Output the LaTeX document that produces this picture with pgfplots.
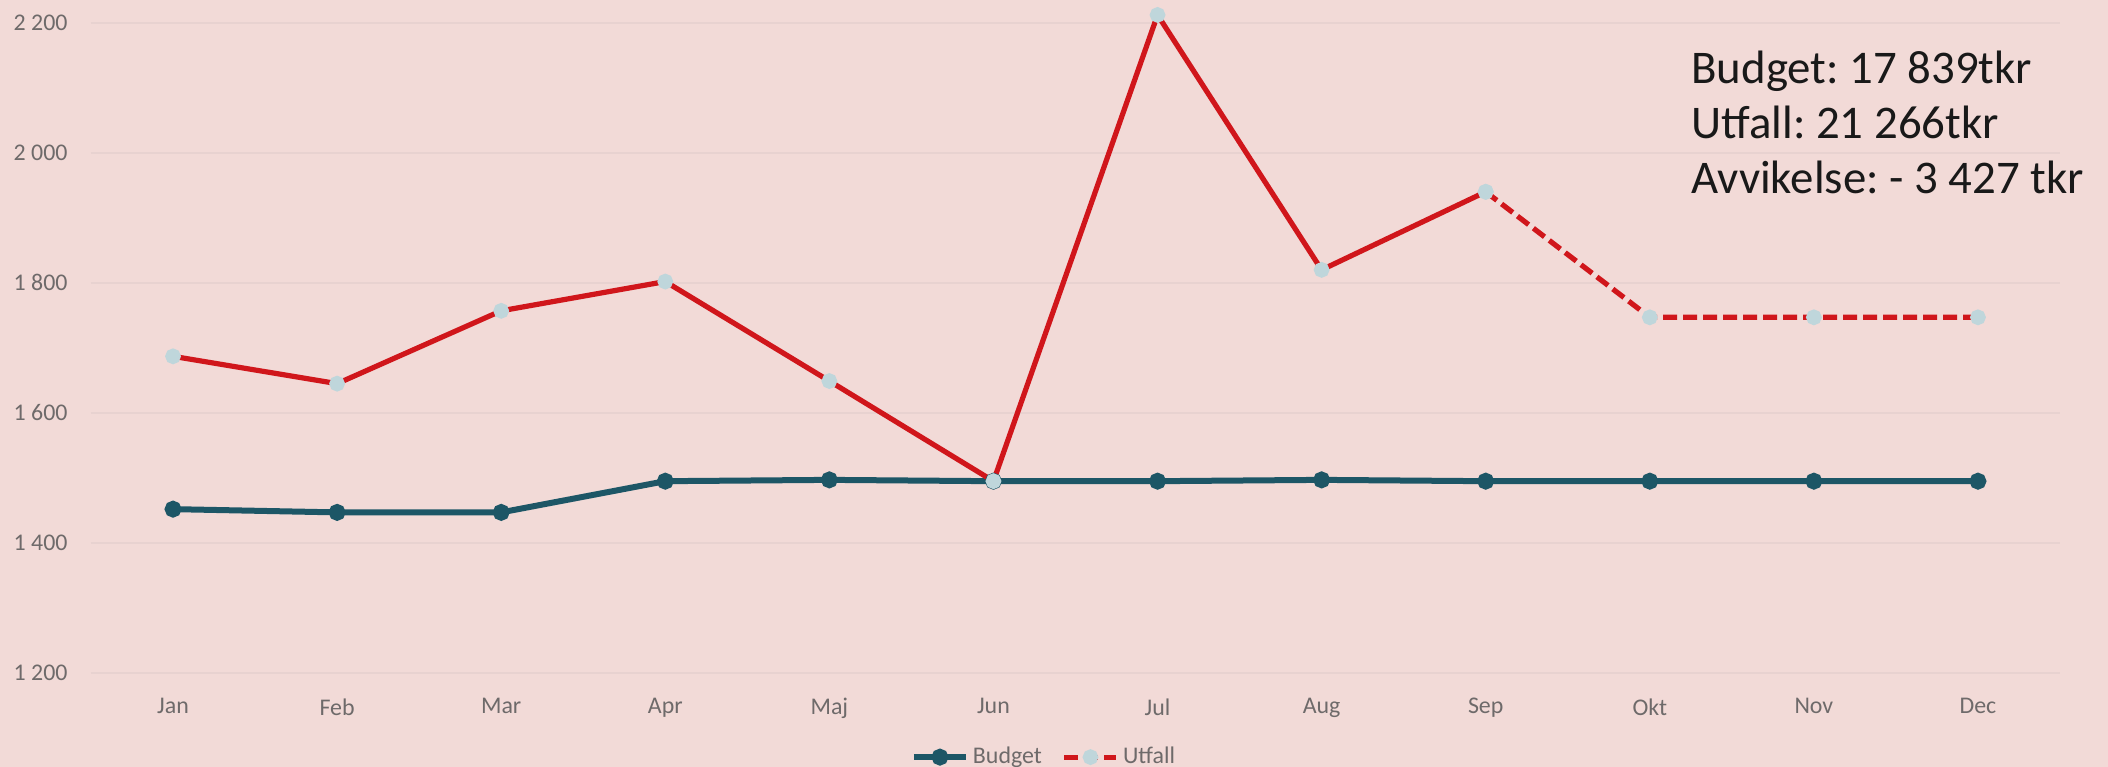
\documentclass[border=0pt]{standalone}
\usepackage{pgfplots}
\pgfplotsset{compat=1.18}
\usepackage{fontspec}
\setmainfont{Carlito}
\frenchspacing
\definecolor{bgpink}{HTML}{F2DAD7}
\definecolor{gridc}{HTML}{E8D2D0}
\definecolor{redline}{HTML}{D0161B}
\definecolor{tealc}{HTML}{1D5666}
\definecolor{markblue}{HTML}{BFD6DB}
\definecolor{ticktext}{HTML}{6E6A6A}
\begin{document}
\begin{tikzpicture}
\useasboundingbox (-45.5bp,-47bp) rectangle (1008.5bp,336.5bp);
\fill[bgpink] (-45.5bp,-47bp) rectangle (1008.5bp,336.5bp);
\begin{axis}[
  at={(0,0)}, anchor=south west,
  scale only axis, width=984.5bp, height=336.5bp,
  xmin=-0.5, xmax=11.5, ymin=1200, ymax=2235,
  axis line style={draw=none},
  tick style={draw=none},
  xtick={0,...,11},
  xticklabels={Jan,Feb,Mar,Apr,Maj,Jun,Jul,Aug,Sep,Okt,Nov,Dec},
  ytick={1200,1400,1600,1800,2000,2200},
  yticklabels={1 200,1 400,1 600,1 800,2 000,2 200},
  ymajorgrids, major grid style={gridc, line width=1bp},
  ticklabel style={font=\fontsize{12}{14}\selectfont, text=ticktext, inner sep=0pt},
  yticklabel style={anchor=east, xshift=-11.5bp},
  xticklabel style={anchor=north, yshift=-12.5bp},
  clip=false,
  legend style={at={(0.4845,-0.125)}, anchor=center, draw=none, fill=none,
    font=\fontsize{12}{14}\selectfont, text=ticktext, legend columns=2,
    /tikz/every even column/.append style={column sep=8bp}},
  legend cell align=left,
  legend image code/.code={\draw[mark repeat=2,mark phase=2,#1] plot coordinates {(0bp,0bp) (13bp,0bp) (26bp,0bp)};},
]
\addplot[tealc, line width=3bp, mark=*, mark size=2.7bp, mark options={solid, fill=tealc, draw=tealc}]
  coordinates {(0,1452) (1,1447) (2,1447) (3,1495) (4,1497) (5,1495) (6,1495) (7,1497) (8,1495) (9,1495) (10,1495) (11,1495)};
\addlegendentry{Budget}
\addplot[redline, line width=2.6bp, mark=*, mark size=2.6bp, mark options={solid, fill=markblue, draw=markblue}, forget plot]
  coordinates {(0,1687) (1,1645) (2,1757) (3,1802) (4,1649) (5,1495) (6,2212) (7,1820) (8,1940)};
\addplot[redline, line width=2.6bp, dash pattern=on 7bp off 3bp, mark=*, mark size=2.6bp, mark options={solid, fill=markblue, draw=markblue}]
  coordinates {(8,1940) (9,1747) (10,1747) (11,1747)};
\addlegendentry{Utfall}
\end{axis}
\node[anchor=base west, inner sep=0pt, font=\fontsize{23.5}{27.5}\selectfont, text=black!90] at (800bp,294.5bp) {Budget: 17 839tkr};
\node[anchor=base west, inner sep=0pt, font=\fontsize{23.5}{27.5}\selectfont, text=black!90] at (800bp,267bp) {Utfall: 21 266tkr};
\node[anchor=base west, inner sep=0pt, font=\fontsize{23.5}{27.5}\selectfont, text=black!90] at (800bp,239.5bp) {Avvikelse: - 3 427 tkr};
\end{tikzpicture}
\end{document}
